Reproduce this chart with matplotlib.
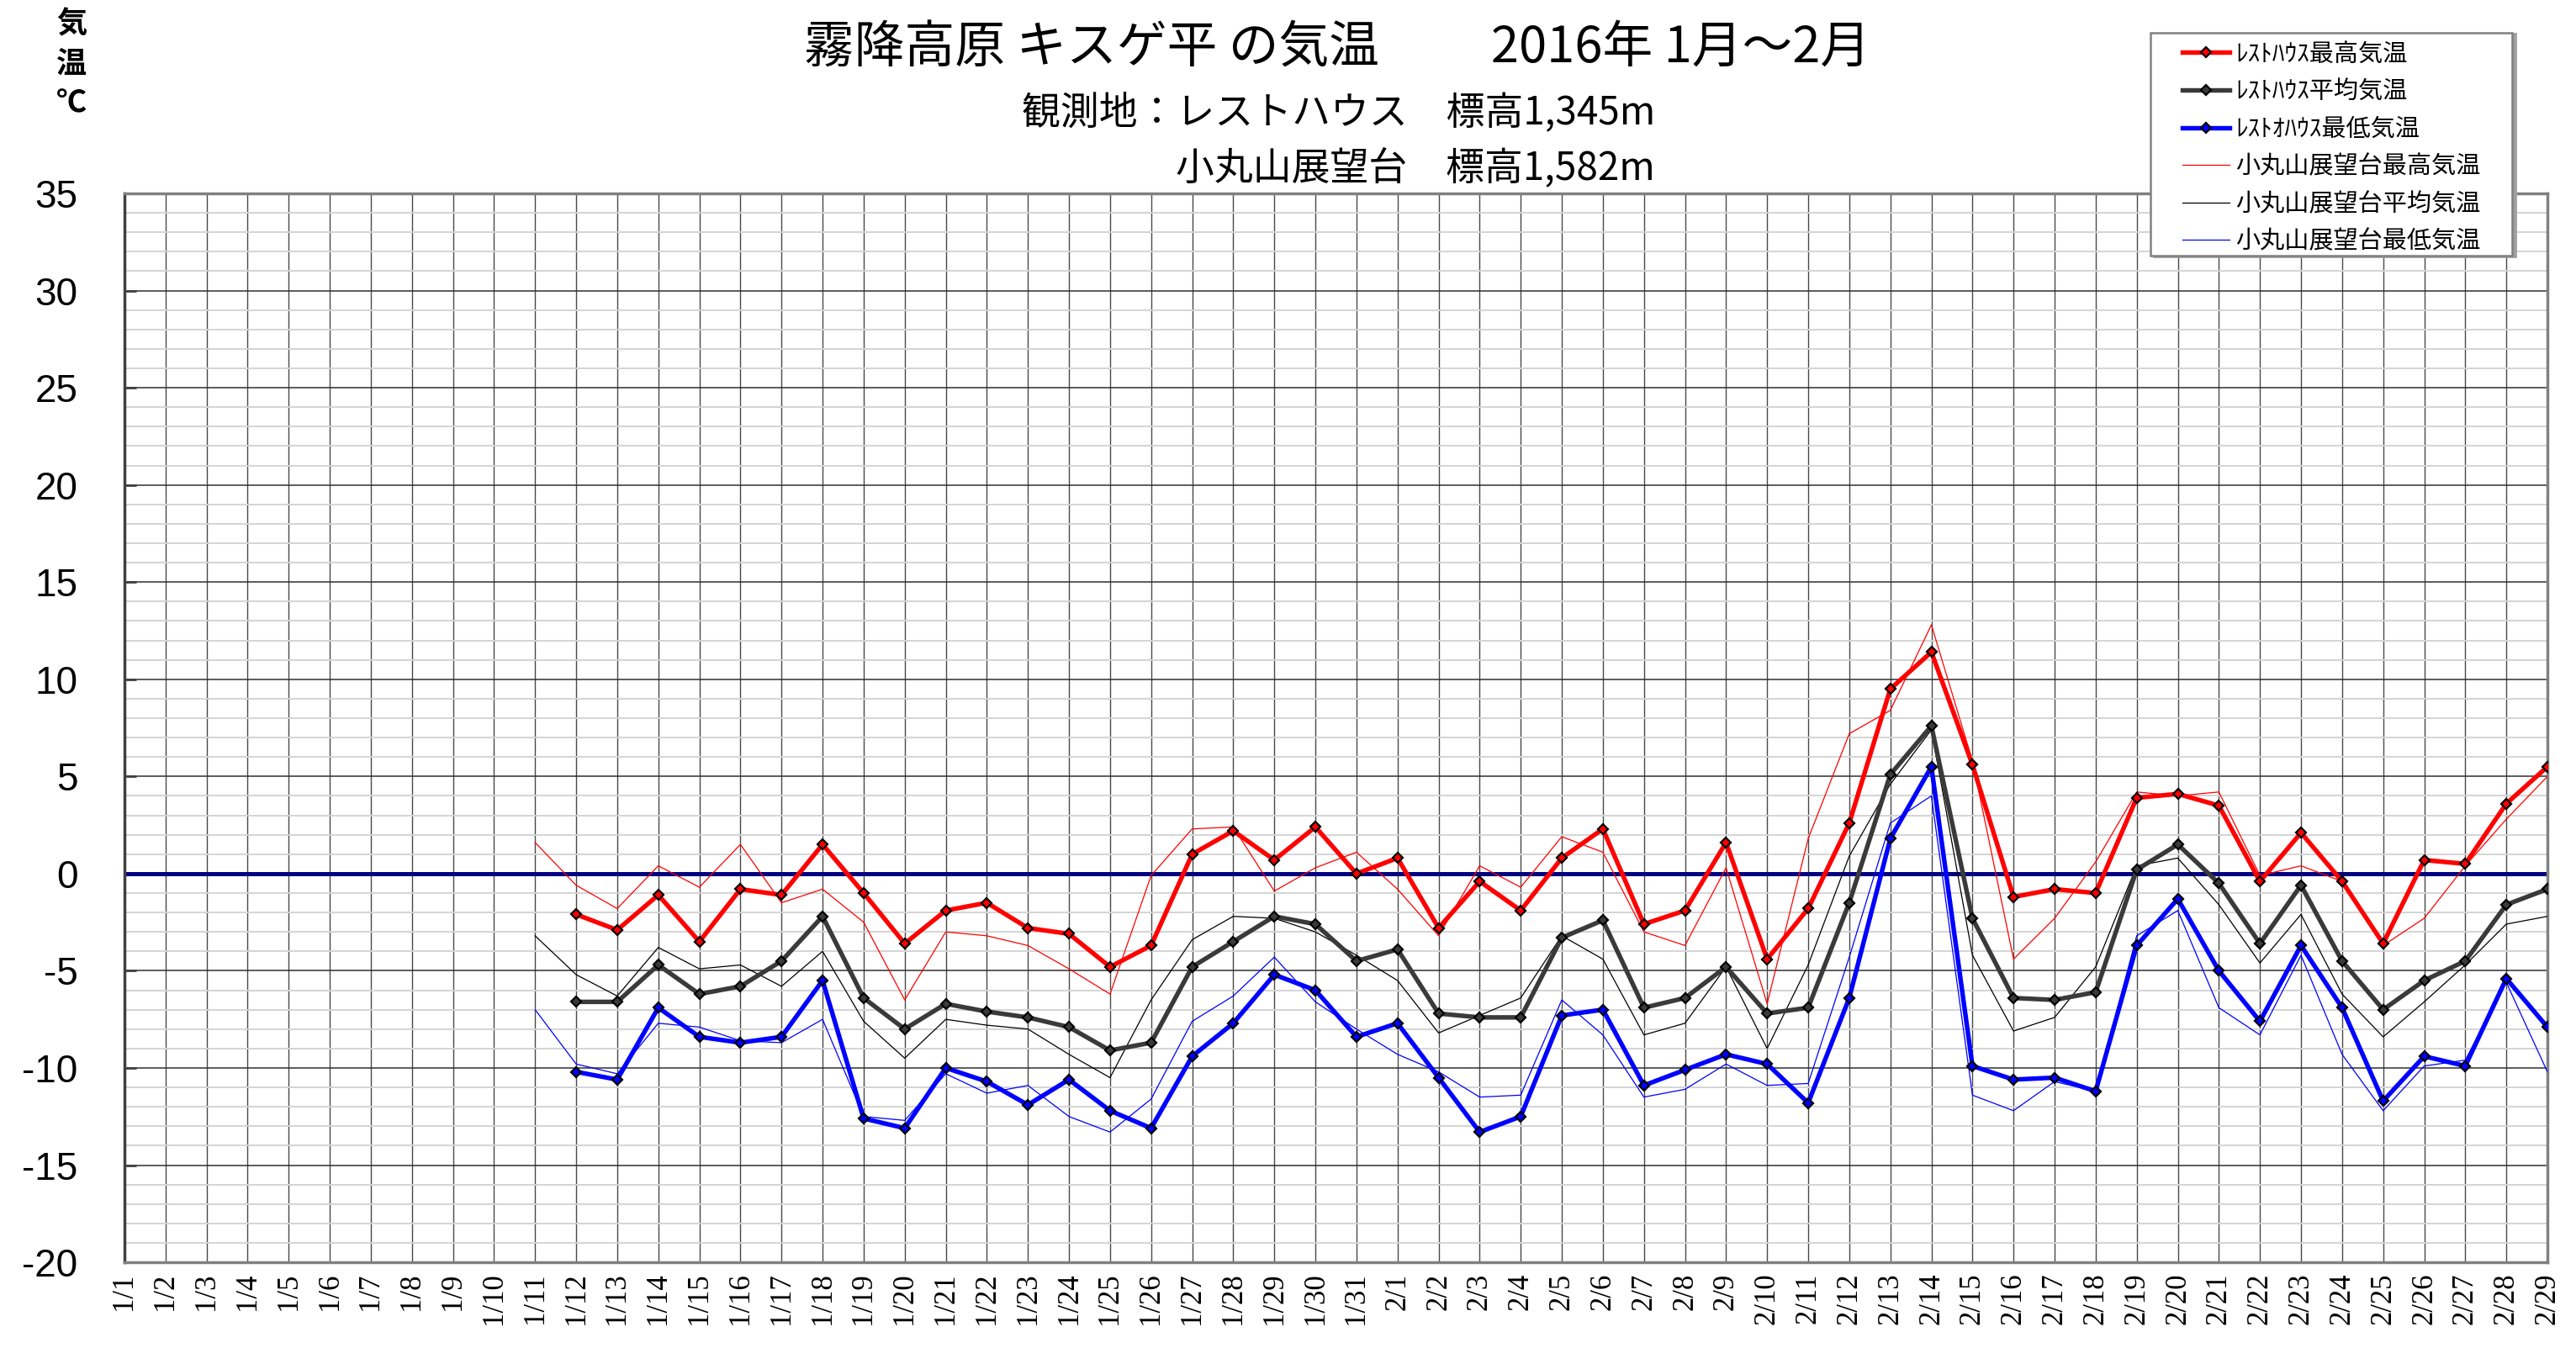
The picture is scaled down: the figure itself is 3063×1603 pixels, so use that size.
import numpy as np
import matplotlib
matplotlib.use('Agg')
import matplotlib.pyplot as plt
from matplotlib.ticker import MultipleLocator
from matplotlib.patches import Rectangle

plt.rcParams['axes.unicode_minus'] = False

# -----------------------
# DATOS
# -----------------------
jan = [f'1/{d}' for d in range(1, 32)]
feb = [f'2/{d}' for d in range(1, 30)]
day_labels = jan + feb

# レストハウス (1/12 - 2/29)
rest_max = [-2.1, -2.9, -1.1, -3.5, -0.8, -1.1, 1.5, -1.0, -3.6, -1.9,
            -1.5, -2.8, -3.1, -4.8, -3.7, 1.0, 2.2, 0.7, 2.4, 0.0,
            0.8, -2.8, -0.4, -1.9, 0.8, 2.3, -2.6, -1.9, 1.6, -4.4,
            -1.8, 2.6, 9.5, 11.4, 5.6, -1.2, -0.8, -1.0, 3.9, 4.1,
            3.5, -0.4, 2.1, -0.4, -3.6, 0.7, 0.5, 3.6, 5.5]
rest_avg = [-6.6, -6.6, -4.7, -6.2, -5.8, -4.5, -2.2, -6.4, -8.0, -6.7,
            -7.1, -7.4, -7.9, -9.1, -8.7, -4.8, -3.5, -2.2, -2.6, -4.5,
            -3.9, -7.2, -7.4, -7.4, -3.3, -2.4, -6.9, -6.4, -4.8, -7.2,
            -6.9, -1.5, 5.1, 7.6, -2.3, -6.4, -6.5, -6.1, 0.2, 1.5,
            -0.5, -3.6, -0.6, -4.5, -7.0, -5.5, -4.5, -1.6, -0.8]
rest_min = [-10.2, -10.6, -6.9, -8.4, -8.7, -8.4, -5.5, -12.6, -13.1, -10.0,
            -10.7, -11.9, -10.6, -12.2, -13.1, -9.4, -7.7, -5.2, -6.0, -8.4,
            -7.7, -10.5, -13.3, -12.5, -7.3, -7.0, -10.9, -10.1, -9.3, -9.8,
            -11.8, -6.4, 1.8, 5.5, -9.9, -10.6, -10.5, -11.2, -3.7, -1.3,
            -5.0, -7.6, -3.7, -6.9, -11.7, -9.4, -9.9, -5.4, -7.9]

# 小丸山展望台 (1/11 - 2/29)
kom_max = [1.6, -0.6, -1.8, 0.4, -0.7, 1.5, -1.5, -0.8, -2.5, -6.5,
           -3.0, -3.2, -3.7, -4.9, -6.2, -0.1, 2.3, 2.4, -0.9, 0.3,
           1.1, -0.8, -3.2, 0.4, -0.7, 1.9, 1.1, -3.0, -3.7, 0.3,
           -6.7, 1.8, 7.2, 8.4, 12.8, 5.8, -4.4, -2.3, 0.6, 4.2,
           4.0, 4.2, -0.1, 0.4, -0.4, -3.7, -2.3, 0.4, 2.8, 5.0]
kom_avg = [-3.2, -5.2, -6.3, -3.8, -4.9, -4.7, -5.8, -4.0, -7.6, -9.5,
           -7.5, -7.8, -8.0, -9.3, -10.5, -6.5, -3.4, -2.2, -2.3, -3.0,
           -4.2, -5.5, -8.2, -7.3, -6.4, -3.2, -4.4, -8.3, -7.7, -4.8,
           -9.0, -4.7, 0.9, 4.6, 7.4, -4.2, -8.1, -7.4, -4.8, 0.4,
           0.8, -1.6, -4.6, -2.1, -6.2, -8.4, -6.6, -4.7, -2.6, -2.2]
kom_min = [-7.0, -9.8, -10.3, -7.7, -7.9, -8.6, -8.7, -7.5, -12.5, -12.7,
           -10.3, -11.3, -10.9, -12.5, -13.3, -11.6, -7.6, -6.3, -4.3, -6.6,
           -8.0, -9.3, -10.2, -11.5, -11.4, -6.5, -8.3, -11.5, -11.1, -9.8,
           -10.9, -10.8, -4.3, 2.6, 4.0, -11.4, -12.2, -10.7, -11.2, -3.2,
           -1.9, -6.9, -8.3, -4.2, -9.3, -12.2, -9.9, -9.6, -5.6, -10.2]

n = len(day_labels)
x = np.arange(n)
x_rest = x[n - len(rest_max):]
x_kom = x[n - len(kom_max):]

# -----------------------
# FIGURA
# -----------------------
fig = plt.figure(figsize=(30.63, 16.03), dpi=100)
ax = fig.add_axes([0.0483, 0.0636, 0.9406, 0.7929])

ax.set_xlim(0, n - 1)
ax.set_ylim(-20, 35)
ax.yaxis.set_major_locator(MultipleLocator(5))
ax.yaxis.set_minor_locator(MultipleLocator(1))
ax.set_xticks(x)
ax.set_xticklabels(day_labels, rotation=90, family=['Liberation Serif', 'DejaVu Serif'],
                   fontsize=25, va='top')
ax.tick_params(axis='x', length=0, pad=9)
ax.tick_params(axis='y', which='major', direction='in', length=10, width=2,
               color='#404040', pad=40, labelsize=33)
ax.tick_params(axis='y', which='minor', length=0)
for lb in ax.get_yticklabels():
    lb.set_family(['Liberation Sans', 'DejaVu Sans'])

ax.grid(axis='y', which='minor', color='#d4d4d4', lw=1.4, zorder=0)
ax.grid(axis='y', which='major', color='#303030', lw=1.1, zorder=0)
ax.grid(axis='x', which='major', color='#484848', lw=1.0, zorder=0)
ax.set_axisbelow(True)
for s in ax.spines.values():
    s.set_color('#808080')
    s.set_linewidth(2.5)
ax.spines['left'].set_color('#404040')

# linea de cero
ax.axhline(0, color='#000080', lw=3.6, zorder=2)

# series finas
l4, = ax.plot(x_kom, kom_max, color='#ff0000', lw=0.9, zorder=3, label='小丸山展望台最高気温')
l5, = ax.plot(x_kom, kom_avg, color='#000000', lw=0.9, zorder=3, label='小丸山展望台平均気温')
l6, = ax.plot(x_kom, kom_min, color='#0000ff', lw=0.9, zorder=3, label='小丸山展望台最低気温')

# series gruesas
mk = dict(marker='D', markersize=6, markeredgecolor='black', markeredgewidth=1.6)
l1, = ax.plot(x_rest, rest_max, color='#ff0000', lw=3.9, zorder=4,
              markerfacecolor='#ff0000', label='ﾚｽﾄﾊｳｽ最高気温', **mk)
l2, = ax.plot(x_rest, rest_avg, color='#3a3a3a', lw=3.9, zorder=4,
              markerfacecolor='#3a3a3a', label='ﾚｽﾄﾊｳｽ平均気温', **mk)
l3, = ax.plot(x_rest, rest_min, color='#0000ff', lw=3.9, zorder=4,
              markerfacecolor='#0000ff', label='ﾚｽﾄｵﾊｳｽ最低気温', **mk)

jp = ['Noto Sans CJK JP', 'DejaVu Sans']
fig.text(0.519, 0.964, '霧降高原 キスゲ平 の気温　　 2016年 1月～2月',
         family=jp, fontsize=43, ha='center', va='center')
fig.text(0.6425, 0.916, '観測地：レストハウス　標高1,345m', family=jp, fontsize=33,
         ha='right', va='center')
fig.text(0.6425, 0.875, '小丸山展望台　標高1,582m', family=jp, fontsize=33,
         ha='right', va='center')
fig.text(0.0277, 0.9526, '気\n温\n℃', family=jp, fontsize=26, fontweight='bold',
         ha='center', va='center', linespacing=1.35)

# recuadro de la leyenda
fig.patches.append(Rectangle((0.8360, 0.8095), 0.1404, 0.1653, transform=fig.transFigure,
                             facecolor='#a0a0a0', edgecolor='#a0a0a0', lw=2.0, zorder=9))
fig.patches.append(Rectangle((0.8348, 0.8104), 0.1404, 0.1653, transform=fig.transFigure,
                             facecolor='white', edgecolor='#808080', lw=1.8, zorder=9))
leg = fig.legend(handles=[l1, l2, l3, l4, l5, l6], loc='upper left',
                 bbox_to_anchor=(0.8472, 0.9690), prop={'family': jp, 'size': 21},
                 handlelength=1.92, handletextpad=0.25, labelspacing=0.5,
                 borderpad=0, borderaxespad=0, frameon=False)
leg.set_zorder(10)

fig.savefig('out.png', dpi=100, facecolor='white')
